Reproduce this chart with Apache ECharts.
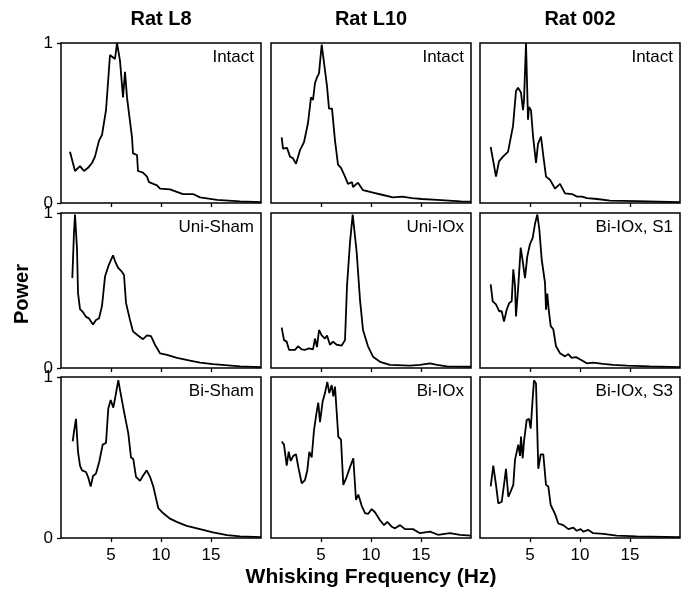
<!DOCTYPE html>
<html>
<head>
<meta charset="utf-8">
<script src="https://cdn.jsdelivr.net/npm/echarts@6/dist/echarts.min.js"></script>
<style>
html,body{margin:0;padding:0;background:#fff}
#chart{width:688px;height:589px}
</style>
</head>
<body>
<div id="chart"></div>
<script>
// column headers, panel labels, ticks
const ratNames = ['Rat L8', 'Rat L10', 'Rat 002'];
const panelLabels = [
    ['Intact', 'Intact', 'Intact'],
    ['Uni-Sham', 'Uni-IOx', 'Bi-IOx, S1'],
    ['Bi-Sham', 'Bi-IOx', 'Bi-IOx, S3']
];
const xTicks = [5, 10, 15];

// [frequency Hz, normalised power]
const l8Intact = [[0.9,0.32],[1.4,0.20],[1.6,0.19],[1.9,0.23],[2.3,0.20],[2.7,0.22],[3.1,0.25],[3.4,0.29],[3.8,0.39],[4.1,0.425],[4.5,0.58],[4.9,0.925],[5.4,0.90],[5.6,1.0],[5.9,0.89],[6.2,0.66],[6.4,0.82],[6.6,0.66],[7.1,0.41],[7.2,0.31],[7.6,0.30],[7.7,0.20],[8.2,0.19],[8.6,0.165],[8.8,0.13],[9.6,0.11],[9.9,0.09],[10.9,0.085],[12.2,0.056],[13.2,0.056],[13.9,0.035],[15.6,0.02],[17.9,0.01],[20,0.005]];
const l10Intact = [[1.07,0.41],[1.2,0.34],[1.6,0.345],[1.9,0.29],[2.2,0.28],[2.5,0.245],[2.9,0.33],[3.3,0.38],[3.7,0.50],[4.0,0.66],[4.2,0.645],[4.4,0.75],[4.6,0.785],[4.8,0.81],[5.07,0.99],[5.2,0.98],[5.6,0.73],[5.8,0.59],[6.1,0.59],[6.4,0.39],[6.7,0.24],[7.0,0.22],[7.4,0.165],[7.7,0.12],[8.1,0.13],[8.2,0.10],[8.7,0.127],[9.2,0.08],[10.2,0.065],[11.2,0.05],[12.2,0.035],[13.1,0.04],[14.1,0.03],[15.1,0.025],[16.6,0.02],[19.0,0.01],[20,0.008]];
const r002Intact = [[1.07,0.35],[1.6,0.165],[1.9,0.26],[2.3,0.29],[2.8,0.32],[3.0,0.33],[3.3,0.48],[3.6,0.70],[3.8,0.72],[4.1,0.69],[4.3,0.58],[4.4,0.64],[4.6,1.0],[4.8,0.52],[4.9,0.60],[5.1,0.58],[5.3,0.42],[5.6,0.25],[5.8,0.37],[6.1,0.415],[6.3,0.31],[6.6,0.165],[7.0,0.145],[7.5,0.09],[8.0,0.12],[8.5,0.06],[9.2,0.056],[9.7,0.04],[10.2,0.04],[10.7,0.03],[11.7,0.025],[13.0,0.015],[15.7,0.012],[20,0.005]];
const l8UniSham = [[1.13,0.58],[1.3,0.875],[1.4,0.99],[1.6,0.77],[1.7,0.485],[1.9,0.38],[2.2,0.36],[2.5,0.33],[2.8,0.32],[3.2,0.28],[3.5,0.31],[3.8,0.32],[4.1,0.40],[4.4,0.59],[4.75,0.66],[5.2,0.727],[5.4,0.69],[5.7,0.647],[6.1,0.62],[6.3,0.60],[6.5,0.42],[6.9,0.31],[7.2,0.236],[7.7,0.21],[8.2,0.186],[8.6,0.21],[9.0,0.205],[9.4,0.15],[9.9,0.095],[10.6,0.085],[11.6,0.065],[12.9,0.047],[13.9,0.035],[15.2,0.025],[17.9,0.01],[20,0.006]];
const l10UniIOx = [[1.07,0.26],[1.3,0.18],[1.57,0.17],[1.8,0.117],[2.4,0.117],[2.7,0.14],[3.07,0.12],[3.4,0.117],[3.8,0.126],[4.2,0.12],[4.4,0.19],[4.6,0.135],[4.8,0.245],[5.07,0.21],[5.4,0.19],[5.6,0.21],[5.9,0.15],[6.2,0.17],[6.57,0.15],[7.07,0.145],[7.4,0.18],[7.6,0.53],[7.9,0.81],[8.17,0.99],[8.3,0.98],[8.57,0.745],[8.9,0.44],[9.2,0.245],[9.7,0.14],[10.2,0.073],[10.9,0.04],[11.9,0.02],[13.9,0.015],[14.9,0.02],[15.9,0.03],[16.6,0.02],[17.6,0.01],[20,0.008]];
const r002BiS1 = [[1.07,0.54],[1.27,0.43],[1.6,0.41],[1.93,0.366],[2.17,0.366],[2.4,0.30],[2.67,0.376],[2.93,0.42],[3.17,0.43],[3.33,0.636],[3.5,0.53],[3.6,0.333],[3.83,0.53],[4.07,0.777],[4.27,0.69],[4.5,0.58],[4.73,0.72],[5.0,0.80],[5.27,0.84],[5.5,0.93],[5.73,0.99],[5.93,0.896],[6.17,0.70],[6.5,0.55],[6.6,0.376],[6.73,0.48],[6.87,0.376],[7.07,0.27],[7.33,0.25],[7.6,0.14],[8.0,0.095],[8.5,0.075],[8.83,0.09],[9.17,0.065],[9.6,0.07],[10.17,0.05],[10.67,0.03],[11.3,0.035],[12.3,0.026],[13.3,0.02],[14.7,0.015],[17,0.01],[20,0.005]];
const l8BiSham = [[1.17,0.60],[1.3,0.66],[1.5,0.74],[1.7,0.536],[1.9,0.45],[2.1,0.42],[2.5,0.41],[2.7,0.38],[2.97,0.32],[3.2,0.385],[3.5,0.40],[3.83,0.475],[4.17,0.58],[4.5,0.59],[4.73,0.805],[4.97,0.857],[5.23,0.81],[5.4,0.865],[5.73,0.98],[5.9,0.92],[6.3,0.785],[6.73,0.65],[7.0,0.50],[7.23,0.49],[7.5,0.38],[7.9,0.355],[8.23,0.39],[8.57,0.42],[8.9,0.38],[9.23,0.32],[9.73,0.185],[10.2,0.155],[10.9,0.12],[11.57,0.10],[12.57,0.075],[13.9,0.055],[15.2,0.035],[16.6,0.018],[17.9,0.01],[20,0.006]];
const l10BiIOx = [[1.07,0.60],[1.3,0.58],[1.57,0.45],[1.77,0.536],[1.97,0.48],[2.23,0.51],[2.5,0.52],[2.73,0.44],[3.07,0.34],[3.4,0.36],[3.63,0.42],[3.83,0.535],[4.07,0.50],[4.3,0.67],[4.57,0.785],[4.73,0.84],[4.9,0.72],[5.17,0.85],[5.4,0.90],[5.63,0.97],[5.83,0.90],[6.07,0.95],[6.23,0.88],[6.4,0.94],[6.73,0.63],[7.0,0.61],[7.23,0.33],[7.57,0.38],[7.9,0.44],[8.23,0.495],[8.5,0.236],[8.73,0.27],[9.07,0.20],[9.4,0.155],[9.73,0.15],[10.07,0.18],[10.4,0.16],[10.9,0.11],[11.3,0.08],[11.63,0.10],[12.07,0.07],[12.4,0.06],[12.9,0.08],[13.4,0.055],[14.2,0.055],[14.9,0.03],[15.9,0.04],[16.7,0.02],[17.9,0.03],[18.9,0.02],[20,0.015]];
const r002BiS3 = [[1.07,0.32],[1.33,0.45],[1.6,0.33],[1.83,0.215],[2.17,0.225],[2.4,0.33],[2.6,0.43],[2.83,0.256],[3.07,0.29],[3.33,0.33],[3.5,0.485],[3.67,0.495],[3.83,0.58],[4.0,0.51],[4.1,0.63],[4.27,0.495],[4.4,0.60],[4.67,0.733],[4.9,0.74],[5.07,0.68],[5.27,0.868],[5.4,0.98],[5.6,0.96],[5.83,0.43],[6.07,0.52],[6.33,0.52],[6.6,0.33],[6.83,0.32],[7.07,0.205],[7.5,0.15],[7.83,0.09],[8.33,0.08],[8.83,0.055],[9.33,0.065],[9.67,0.045],[10.07,0.055],[10.33,0.04],[10.83,0.05],[11.33,0.03],[12.33,0.026],[13.67,0.015],[15.67,0.01],[20,0.005]];

const panelData = [
    [l8Intact, l10Intact, r002Intact],
    [l8UniSham, l10UniIOx, r002BiS1],
    [l8BiSham, l10BiIOx, r002BiS3]
];

const colLeft = [61, 271, 480];
const panelW = 200;
const rowTop = [43, 213, 377];
const rowH = [160, 155, 161];
const fontFam = 'Liberation Sans, Arial, Helvetica, sans-serif';

const chart = echarts.init(document.getElementById('chart'), null, { renderer: 'canvas' });

let grid = [], xAxis = [], yAxis = [], series = [], graphic = [];
let idx = 0;
for (let r = 0; r < 3; r++) {
    for (let c = 0; c < 3; c++) {
        grid.push({
            left: colLeft[c], top: rowTop[r], width: panelW, height: rowH[r],
            show: true, borderColor: '#000', borderWidth: 1.5, backgroundColor: 'transparent'
        });
        xAxis.push({
            type: 'value', gridIndex: idx, min: 0, max: 20,
            splitLine: { show: false },
            axisLine: { show: false },
            axisTick: { show: true, customValues: xTicks, length: 4, lineStyle: { color: '#000', width: 1.3 } },
            axisLabel: {
                show: r === 2, customValues: xTicks, margin: 9,
                color: '#000', fontSize: 17, fontFamily: fontFam
            }
        });
        yAxis.push({
            type: 'value', gridIndex: idx, min: 0, max: 1, interval: 1,
            splitLine: { show: false },
            axisLine: { show: false },
            axisTick: { show: c === 0, length: 4, lineStyle: { color: '#000', width: 1.3 } },
            axisLabel: { show: c === 0, margin: 8, color: '#000', fontSize: 17, fontFamily: fontFam }
        });
        series.push({
            type: 'line', xAxisIndex: idx, yAxisIndex: idx,
            data: panelData[r][c], showSymbol: false, animation: false,
            lineStyle: { color: '#000', width: 1.8 }
        });
        graphic.push({
            type: 'text', x: colLeft[c] + panelW - 7, y: rowTop[r] + 6,
            style: {
                text: panelLabels[r][c], fill: '#000', font: '17px ' + fontFam,
                textAlign: 'right', textVerticalAlign: 'top'
            }
        });
        idx++;
    }
}

ratNames.forEach((n, c) => {
    graphic.push({
        type: 'text', x: colLeft[c] + panelW / 2, y: 19,
        style: { text: n, fill: '#000', font: 'bold 20px ' + fontFam, textAlign: 'center', textVerticalAlign: 'middle' }
    });
});
graphic.push({
    type: 'text', x: 371, y: 577,
    style: { text: 'Whisking Frequency (Hz)', fill: '#000', font: 'bold 21px ' + fontFam, textAlign: 'center', textVerticalAlign: 'middle' }
});
graphic.push({
    type: 'text', x: 22, y: 294, rotation: Math.PI / 2,
    style: { text: 'Power', fill: '#000', font: 'bold 20px ' + fontFam, textAlign: 'center', textVerticalAlign: 'middle' }
});

const option = {
    backgroundColor: '#fff',
    animation: false,
    grid, xAxis, yAxis, series, graphic
};
chart.setOption(option);
window.addEventListener('resize', function () {
    chart.resize();
});
</script>
</body>
</html>
